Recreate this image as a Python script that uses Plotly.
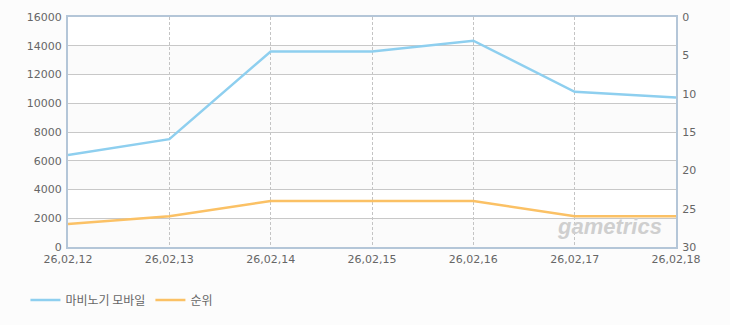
import plotly.graph_objects as go

dates = ["26,02,12", "26,02,13", "26,02,14", "26,02,15", "26,02,16", "26,02,17", "26,02,18"]
series_main = [6400, 7500, 13600, 13600, 14350, 10800, 10400]
series_rank = [27, 26, 24, 24, 24, 26, 26]
name_main = "마비노기 모바일"
name_rank = "순위"
left_ticks = [0, 2000, 4000, 6000, 8000, 10000, 12000, 14000, 16000]
right_ticks = [0, 5, 10, 15, 20, 25, 30]

tick_font = dict(family="DejaVu Sans, Noto Sans CJK KR", size=11, color="#666666")

fig = go.Figure()
fig.add_trace(go.Scatter(x=dates, y=series_main, name=name_main, mode="lines",
                         line=dict(color="#8ecfef", width=2.5), yaxis="y"))
fig.add_trace(go.Scatter(x=dates, y=series_rank, name=name_rank, mode="lines",
                         line=dict(color="#fbc165", width=2.5), yaxis="y2"))

# alternating bands
shapes = []
for i in range(0, len(left_ticks) - 1):
    if i % 2 == 0:
        shapes.append(dict(type="rect", xref="paper", yref="y", x0=0, x1=1,
                           y0=left_ticks[i], y1=left_ticks[i + 1],
                           fillcolor="#fbfbfb", line=dict(width=0), layer="below"))

fig.update_layout(
    width=730, height=325,
    margin=dict(l=68, r=54, t=17, b=77),
    paper_bgcolor="#fcfcfc",
    plot_bgcolor="#ffffff",
    shapes=shapes,
    showlegend=True,
    legend=dict(orientation="h", x=-0.07, xanchor="left", y=-0.225, yanchor="middle",
                font=dict(family="Noto Sans CJK KR", size=12, color="#666666"),
                bgcolor="rgba(0,0,0,0)", itemwidth=30, tracegroupgap=0),
    xaxis=dict(type="category", range=[0, len(dates) - 1], tickmode="array",
               tickvals=dates, ticktext=dates, tickfont=tick_font,
               showgrid=True, gridcolor="#c4c4c4", griddash="3px,2px", gridwidth=1,
               showline=True, linecolor="#b4c6d8", linewidth=2, mirror=True,
               ticks="", zeroline=False, ticklabelstandoff=1),
    yaxis=dict(range=[0, 16000], tickvals=left_ticks, ticktext=[str(v) for v in left_ticks],
               tickfont=tick_font, tickformat="d",
               showgrid=True, gridcolor="#c8c8c8", gridwidth=1, zeroline=False,
               showline=True, linecolor="#b4c6d8", linewidth=2, ticks="",
               ticklabelstandoff=2),
    yaxis2=dict(range=[30, 0], tickvals=right_ticks, tickfont=tick_font, overlaying="y",
                side="right", showgrid=False, zeroline=False, showline=True,
                linecolor="#b4c6d8", linewidth=2, ticks="", ticklabelstandoff=2),
    annotations=[dict(text="<b><i>gametrics</i></b>", xref="paper", yref="paper",
                      x=0.98, y=0.09, xanchor="right", yanchor="middle", showarrow=False,
                      font=dict(family="Liberation Sans", size=22, color="#cfcfcf"))],
)

fig.write_html("out.html")
